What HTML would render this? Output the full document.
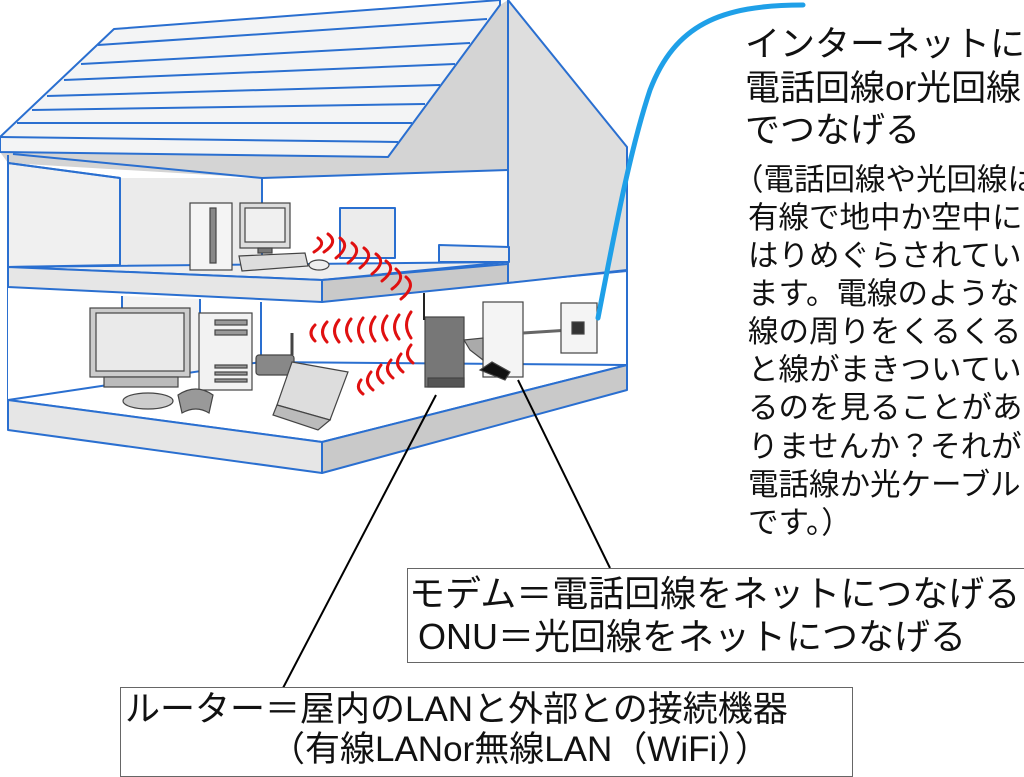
<!DOCTYPE html>
<html><head><meta charset="utf-8">
<style>
html,body{margin:0;padding:0;background:#fff;}
body{width:1024px;height:757px;overflow:hidden;position:relative;font-family:"Liberation Sans","Noto Sans CJK JP",sans-serif;}
svg{position:absolute;left:0;top:0;}
.t{position:absolute;white-space:nowrap;color:#111;line-height:1;}
.box{position:absolute;border:1.5px solid #666;background:#fff;box-sizing:border-box;}
</style></head><body>
<svg width="1024" height="757" viewBox="0 0 1024 757">
<g stroke="#2a6fd0" stroke-width="2" stroke-linejoin="round">
<polygon points="0,152 388,157 500,5 508,0 508,170 262,178 8,163" fill="#d4d4d4" stroke="none"/>
<polygon points="508,0 627,147 627,272 508,283" fill="#dedede"/>
<polygon points="8,163 120,178 120,265 8,267" fill="#f0f0f0"/>
<polygon points="120,178 262,178 262,263 120,265" fill="#ebebeb" stroke="none"/>
<polygon points="262,178 508,170 508,263 262,263" fill="#fff" stroke="none"/>
<line x1="8" y1="163" x2="120" y2="178"/><line x1="120" y1="178" x2="120" y2="265"/>
<line x1="13" y1="154" x2="262" y2="178"/><line x1="262" y1="178" x2="508" y2="170"/>
<line x1="262" y1="178" x2="262" y2="263"/>
<line x1="8" y1="155" x2="8" y2="430"/>
<line x1="508" y1="0" x2="508" y2="283"/>
<rect x="340" y="208" width="55" height="50" fill="#ececec"/>
<polygon points="439,245 509,247 509,262 439,262" fill="#ececec"/>
<polygon points="114,29 500,0 500,5 388,157 0,152 0,137" fill="#f3f4f5"/>
<g fill="none">
<line x1="98" y1="45" x2="487" y2="19"/>
<line x1="81" y1="64" x2="470" y2="43"/>
<line x1="64" y1="80" x2="455" y2="64"/>
<line x1="47" y1="96" x2="440" y2="85"/>
<line x1="32" y1="110" x2="425" y2="104"/>
<line x1="17" y1="123" x2="412" y2="123"/>
<line x1="0" y1="137" x2="398" y2="142"/>
</g>
<polygon points="8,287 322,302 508,283 627,272 627,365 322,442 8,400" fill="#fff" stroke="none"/>
<polygon points="122,296 200,299 200,400 122,395" fill="#f2f2f2" stroke="none"/>
<line x1="122" y1="296" x2="122" y2="320"/>
<line x1="200" y1="299" x2="200" y2="320"/>
<line x1="261" y1="302" x2="261" y2="362"/>
<line x1="627" y1="147" x2="627" y2="390"/>
<line x1="508" y1="283" x2="627" y2="270"/>
<polygon points="8,267 508,262 322,280" fill="#eeeeee"/>
<polygon points="8,267 322,280 322,302 8,287" fill="#e6e6e6"/>
<polygon points="322,280 508,264 508,283 322,302" fill="#c9c9c9"/>
<polygon points="8,400 261,362 627,365 322,442" fill="#fff"/>
<polygon points="8,400 322,442 322,473 8,430" fill="#e6e6e6"/>
<polygon points="322,442 627,365 627,390 322,473" fill="#c9c9c9"/>
</g>
<g stroke="#444" stroke-width="1.2">
<rect x="190" y="203" width="42" height="67" fill="#f4f4f4"/>
<rect x="210" y="208" width="6" height="55" fill="#888"/>
<rect x="240" y="203" width="50" height="45" fill="#ddd"/>
<rect x="245" y="208" width="40" height="34" fill="#f0f0f0"/>
<rect x="258" y="248" width="14" height="5" fill="#777"/>
<polygon points="239,256 305,253 308,266 242,271" fill="#ddd"/>
<ellipse cx="319" cy="265" rx="10" ry="5" fill="#eee"/>
<rect x="90" y="308" width="100" height="69" fill="#ccc"/>
<rect x="96" y="313" width="88" height="58" fill="#eaeaea"/>
<rect x="104" y="377" width="74" height="10" fill="#bbb"/>
<rect x="199" y="313" width="53" height="77" fill="#f2f2f2"/>
<g fill="#999"><rect x="215" y="320" width="32" height="5"/><rect x="215" y="330" width="32" height="5"/><rect x="215" y="365" width="32" height="3"/><rect x="215" y="372" width="32" height="3"/><rect x="215" y="379" width="32" height="3"/></g>
<rect x="256" y="355" width="38" height="20" rx="3" fill="#888"/>
<line x1="292" y1="333" x2="292" y2="355" stroke-width="3"/>
<polygon points="292,362 348,372 330,420 277,405" fill="#ddd"/>
<polygon points="277,405 330,420 318,430 273,415" fill="#bbb"/>
<ellipse cx="148" cy="401" rx="25" ry="8" fill="#ccc"/>
<path d="M178,395 q18,-12 35,0 l-4,18 q-13,-8 -27,0z" fill="#999"/>
<rect x="425" y="317" width="39" height="70" fill="#777"/>
<rect x="428" y="378" width="36" height="9" fill="#555"/>
<line x1="424" y1="293" x2="424" y2="320" stroke="#222" stroke-width="2"/>
<rect x="483" y="302" width="40" height="75" fill="#f4f4f4"/>
<polygon points="480,370 492,362 510,372 505,380" fill="#111"/>
<polygon points="464,340 483,338 483,360 470,350" fill="#aaa"/>
<line x1="523" y1="333" x2="570" y2="330" stroke="#666" stroke-width="3"/>
<rect x="561" y="303" width="36" height="50" fill="#f4f4f4"/>
<rect x="572" y="322" width="12" height="12" fill="#333"/>
</g>
<g fill="none" stroke="#e01010" stroke-width="3" stroke-linecap="round">
<path d="M318,238 q9,6 -4,14"/><path d="M328,234 q11,8 -4,18"/><path d="M340,238 q11,8 -4,20"/><path d="M352,243 q11,8 -4,20"/><path d="M364,248 q11,8 -4,20"/><path d="M376,254 q11,8 -4,20"/><path d="M386,261 q11,8 -4,20"/><path d="M396,269 q11,9 -4,20"/><path d="M406,277 q11,9 -5,22"/>
<path d="M315,325 q-8,8 0,16"/><path d="M327,322 q-9,10 0,20"/><path d="M339,320 q-9,11 0,22"/><path d="M351,319 q-9,11 0,22"/><path d="M363,318 q-9,12 0,24"/><path d="M375,317 q-9,12 0,24"/><path d="M387,316 q-9,12 0,24"/><path d="M399,315 q-9,12 0,24"/><path d="M411,312 q-9,13 0,26"/>
<path d="M361,380 q-6,8 2,14"/><path d="M371,372 q-8,10 2,18"/><path d="M381,365 q-8,10 2,18"/><path d="M391,360 q-8,10 2,18"/><path d="M401,354 q-8,10 2,18"/><path d="M411,345 q-8,10 2,18"/>
</g>
<path d="M598,318 C615,230 630,150 650,90 C675,25 720,5 803,5" fill="none" stroke="#1fa0e8" stroke-width="5" stroke-linecap="round"/>
<line x1="436" y1="395" x2="283" y2="688" stroke="#000" stroke-width="2"/>
<line x1="518" y1="380" x2="610" y2="568" stroke="#000" stroke-width="2"/>
</svg>

<div class="t" style="left:745px;top:27px;font-size:35px;">インターネットに</div>
<div class="t" style="left:745px;top:71px;font-size:35px;">電話回線or光回線</div>
<div class="t" style="left:745px;top:113px;font-size:35px;">でつなげる</div>
<div class="t" style="left:733px;top:165px;font-size:30.5px;">（電話回線や光回線は</div>
<div class="t" style="left:748px;top:203px;font-size:30.5px;">有線で地中か空中に</div>
<div class="t" style="left:748px;top:241px;font-size:30.5px;">はりめぐらされてい</div>
<div class="t" style="left:748px;top:279px;font-size:30.5px;">ます。電線のような</div>
<div class="t" style="left:748px;top:317px;font-size:30.5px;">線の周りをくるくる</div>
<div class="t" style="left:748px;top:355px;font-size:30.5px;">と線がまきついてい</div>
<div class="t" style="left:748px;top:393px;font-size:30.5px;">るのを見ることがあ</div>
<div class="t" style="left:748px;top:432px;font-size:30.5px;">りませんか？それが</div>
<div class="t" style="left:748px;top:470px;font-size:30.5px;">電話線か光ケーブル</div>
<div class="t" style="left:748px;top:508px;font-size:30.5px;">です。）</div>

<div class="box" style="left:407px;top:568px;width:640px;height:95px;"></div>
<div class="t" style="left:409px;top:576px;font-size:36px;">モデム＝電話回線をネットにつなげる</div>
<div class="t" style="left:418px;top:619px;font-size:36px;">ONU＝光回線をネットにつなげる</div>

<div class="box" style="left:120px;top:687px;width:733px;height:90px;"></div>
<div class="t" style="left:125px;top:692px;font-size:35px;">ルーター＝屋内のLANと外部との接続機器</div>
<div class="t" style="left:270px;top:732px;font-size:35px;">（有線LANor無線LAN（WiFi））</div>
</body></html>
